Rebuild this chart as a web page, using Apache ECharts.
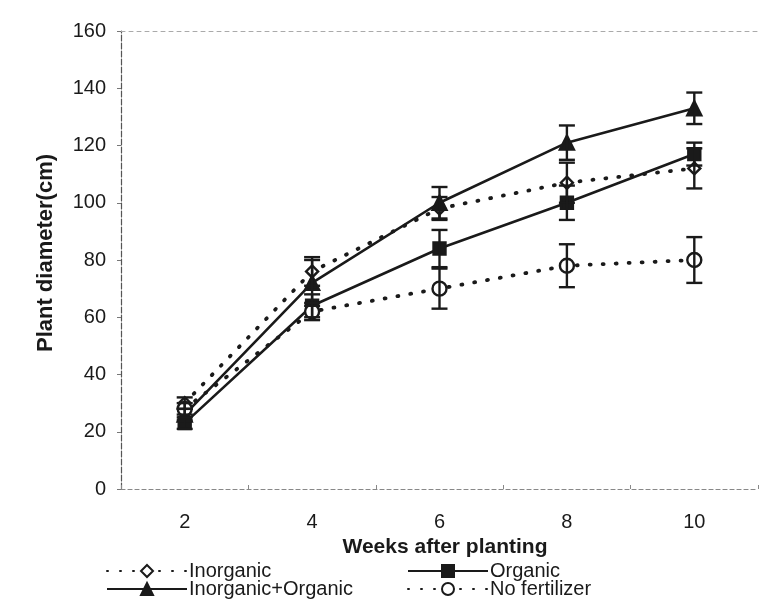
<!DOCTYPE html>
<html>
<head>
<meta charset="utf-8">
<script src="https://cdn.jsdelivr.net/npm/echarts@6/dist/echarts.min.js"></script>
<style>html,body{margin:0;padding:0;background:#fff}#c{width:778px;height:602px}</style>
</head>
<body>
<div id="c"></div>
<script>
const weeks = ['2', '4', '6', '8', '10'];
const yTicks = [0, 20, 40, 60, 80, 100, 120, 140, 160];

const inorganic = [30, 76, 98, 107, 112];
const inorganicErr = [2, 5, 4, 7, 7];
const inorgOrganic = [26, 72, 100, 121, 133];
const inorgOrganicErr = [2, 8, 5.5, 6, 5.5];
const organic = [23, 64, 84, 100, 117];
const organicErr = [2, 4, 6.5, 6, 4];
const noFertilizer = [28, 62, 70, 78, 80];
const noFertilizerErr = [2, 3, 7, 7.5, 8];

const INK = '#1a1a1a';
const FONT = '"Liberation Sans", Arial, sans-serif';

function errData(vals, errs) {
  return vals.map((v, i) => [i, v - errs[i], v + errs[i]]);
}
const allErr = []
  .concat(errData(inorganic, inorganicErr))
  .concat(errData(inorgOrganic, inorgOrganicErr))
  .concat(errData(organic, organicErr))
  .concat(errData(noFertilizer, noFertilizerErr));

function lineSeries(name, data, dashed, symbol, filled, size) {
  return {
    name: name,
    type: 'line',
    data: data,
    symbol: symbol,
    symbolSize: size,
    z: 3,
    lineStyle: dashed
      ? { color: INK, width: 3.8, type: [1, 12], cap: 'round' }
      : { color: INK, width: 2.6, type: 'solid' },
    itemStyle: { color: filled ? INK : '#fff', borderColor: INK, borderWidth: 2.4 },
    emphasis: { disabled: true }
  };
}

const legendText = { fontSize: 20, color: INK, fontFamily: FONT, padding: [0, 0, 0, -3] };

const chart = echarts.init(document.getElementById('c'), null, { renderer: 'canvas' });
chart.setOption({
  backgroundColor: '#fff',
  animation: false,
  textStyle: { fontFamily: FONT },
  grid: { left: 121, right: 20, top: 31, bottom: 113 },
  xAxis: [{
    type: 'category',
    data: weeks,
    boundaryGap: true,
    name: 'Weeks after planting',
    nameLocation: 'middle',
    nameGap: 40,
    nameTextStyle: { fontSize: 21, fontWeight: 'bold', color: INK, fontFamily: FONT, padding: [0, 0, 0, 11] },
    axisLine: { lineStyle: { color: '#888', width: 1.2, type: [4, 3] } },
    axisTick: { show: true, length: 4, inside: true, lineStyle: { color: '#888' } },
    axisLabel: { fontSize: 20, color: INK, margin: 23, fontFamily: FONT },
    splitLine: { show: false }
  }, {
    type: 'category',
    data: weeks,
    position: 'top',
    axisLine: { lineStyle: { color: '#aaa', width: 1, type: [4, 4] } },
    axisTick: { show: false },
    axisLabel: { show: false },
    splitLine: { show: false }
  }],
  yAxis: {
    type: 'value',
    min: 0,
    max: 160,
    interval: 20,
    name: 'Plant diameter(cm)',
    nameLocation: 'middle',
    nameGap: 64,
    nameTextStyle: { fontSize: 22, fontWeight: 'bold', color: INK, fontFamily: FONT, padding: [0, 0, 0, 14] },
    axisLine: { show: true, lineStyle: { color: '#555', width: 1.2, type: [6, 2] } },
    axisTick: { show: true, length: 4, lineStyle: { color: '#777' } },
    axisLabel: { fontSize: 20, color: INK, margin: 15, fontFamily: FONT,
      formatter: v => yTicks.indexOf(v) >= 0 ? String(v) : '' },
    splitLine: { show: false }
  },
  legend: [{
    data: ['Inorganic', 'Inorganic+Organic'],
    orient: 'vertical',
    left: 106,
    top: 561,
    itemWidth: 80,
    itemHeight: 15,
    itemGap: -2,
    padding: 0,
    textStyle: legendText,
    selectedMode: false
  }, {
    data: ['Organic', 'No fertilizer'],
    orient: 'vertical',
    left: 407,
    top: 561,
    itemWidth: 80,
    itemHeight: 15,
    itemGap: -2,
    padding: 0,
    textStyle: legendText,
    selectedMode: false
  }],
  series: [
    lineSeries('Inorganic', inorganic, true, 'diamond', false, 12),
    lineSeries('Organic', organic, false, 'rect', true, 12),
    lineSeries('Inorganic+Organic', inorgOrganic, false, 'triangle', true, 14),
    lineSeries('No fertilizer', noFertilizer, true, 'circle', false, 14),
    {
      type: 'custom',
      name: 'err',
      z: 4,
      silent: true,
      data: allErr,
      encode: { x: 0, y: [1, 2] },
      renderItem: function (params, api) {
        const x = api.value(0);
        const lo = api.coord([x, api.value(1)]);
        const hi = api.coord([x, api.value(2)]);
        const w = 8;
        const st = { stroke: INK, lineWidth: 2.4 };
        return {
          type: 'group',
          children: [
            { type: 'line', shape: { x1: lo[0], y1: lo[1], x2: hi[0], y2: hi[1] }, style: st },
            { type: 'line', shape: { x1: lo[0] - w, y1: lo[1], x2: lo[0] + w, y2: lo[1] }, style: st },
            { type: 'line', shape: { x1: hi[0] - w, y1: hi[1], x2: hi[0] + w, y2: hi[1] }, style: st }
          ]
        };
      }
    }
  ]
});
</script>
</body>
</html>
